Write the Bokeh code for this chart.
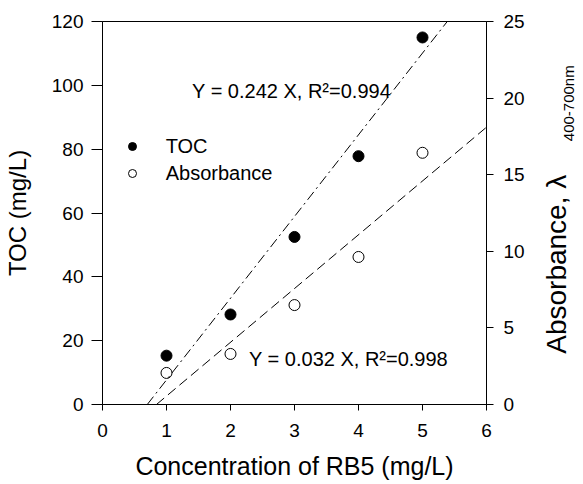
import numpy as np
from bokeh.plotting import figure
from bokeh.models import Range1d, LinearAxis, Label, FixedTicker, Legend, LegendItem
from bokeh.embed import file_html
from bokeh.resources import INLINE

# ---- data ----
conc = [1, 2, 3, 4, 5]
toc = [15.3, 28.2, 52.5, 77.8, 115.0]
absorbance = [2.06, 3.3, 6.49, 9.63, 16.43]
toc_fit_slope, toc_fit_intercept = 25.6, -17.9
abs_fit_slope, abs_fit_intercept = 3.51, -2.96
x_ticks = [0, 1, 2, 3, 4, 5, 6]
toc_ticks = [0, 20, 40, 60, 80, 100, 120]
abs_ticks = [0, 5, 10, 15, 20, 25]
toc_eq = "Y = 0.242 X, R\u00b2=0.994"
abs_eq = "Y = 0.032 X, R\u00b2=0.998"
right_title = "Absorbance, \u03bb"
right_title_sub = "400-700nm"

FONT = "Liberation Sans"

p = figure(width=583, height=484, output_backend="svg", toolbar_location=None,
           x_range=Range1d(0, 6), y_range=Range1d(0, 120),
           min_border_left=102, min_border_right=97, min_border_top=21, min_border_bottom=80)
p.extra_y_ranges = {"abs": Range1d(0, 25)}
p.grid.visible = False
p.outline_line_color = "black"
p.outline_line_width = 1
p.background_fill_color = "white"
p.border_fill_color = "white"

# fit lines
tx0 = -toc_fit_intercept / toc_fit_slope
toc_fx = np.array([tx0, 6.0])
toc_fy = toc_fit_slope * toc_fx + toc_fit_intercept
ax0 = -abs_fit_intercept / abs_fit_slope
abs_fx = np.array([ax0, 6.0])
abs_fy = abs_fit_slope * abs_fx + abs_fit_intercept

p.line(toc_fx, toc_fy, line_color="black", line_width=1, line_dash="10 4 2 4")
p.line(abs_fx, abs_fy, line_color="black", line_width=1, line_dash="10 5", y_range_name="abs")

r_toc = p.scatter(conc, toc, marker="circle", size=11, fill_color="black", line_color="black")
r_abs = p.scatter(conc, absorbance, marker="circle", size=11, fill_color=None, line_color="black",
                  line_width=1, y_range_name="abs")

def style_axis(ax, tick_out, standoff, title_size):
    ax.major_tick_out = tick_out
    ax.major_tick_in = 0
    ax.minor_tick_out = 0
    ax.minor_tick_in = 0
    ax.major_label_standoff = standoff
    ax.major_label_text_font = FONT
    ax.major_label_text_font_size = "19px"
    ax.major_label_text_color = "black"
    ax.axis_line_color = "black"
    ax.major_tick_line_color = "black"
    ax.axis_label_text_font = FONT
    ax.axis_label_text_font_style = "normal"
    ax.axis_label_text_font_size = title_size
    ax.axis_label_text_color = "black"

xa = p.xaxis[0]
xa.ticker = FixedTicker(ticks=x_ticks)
style_axis(xa, 6, 13, "25px")
xa.axis_label = "Concentration of RB5 (mg/L)"
xa.axis_label_standoff = 12

ya = p.yaxis[0]
ya.ticker = FixedTicker(ticks=toc_ticks)
style_axis(ya, 11, 8, "24px")
ya.axis_label = "TOC (mg/L)"
ya.axis_label_standoff = 18

ra = LinearAxis(y_range_name="abs", ticker=FixedTicker(ticks=abs_ticks))
style_axis(ra, 7, 10, "26px")
p.add_layout(ra, "right")

# right axis title: rotated labels placed in the right side panel (not clipped to frame)
p.add_layout(Label(x=7.094, y=15.9, text=right_title, angle=np.pi / 2,
                   text_align="left", text_baseline="alphabetic",
                   text_font=FONT, text_font_size="28px", text_color="black"), "right")
p.add_layout(Label(x=7.28, y=82.5, text=right_title_sub, angle=np.pi / 2,
                   text_align="left", text_baseline="alphabetic",
                   text_font=FONT, text_font_size="15px", text_color="black"), "right")

# equations
p.add_layout(Label(x=1.40, y=98.1, text=toc_eq, text_align="left", text_baseline="alphabetic",
                   text_font=FONT, text_font_size="20px", text_color="black"))
p.add_layout(Label(x=2.29, y=14.3, text=abs_eq, text_align="left", text_baseline="alphabetic",
                   text_font=FONT, text_font_size="20px", text_color="black"))

legend = Legend(items=[LegendItem(label="TOC", renderers=[r_toc]),
                       LegendItem(label="Absorbance", renderers=[r_abs])],
                location=(19.7, 219.3), padding=0, margin=0, spacing=4,
                glyph_width=20, glyph_height=20, label_height=20, label_standoff=24,
                border_line_color=None, background_fill_alpha=0,
                label_text_font=FONT, label_text_font_size="20px", label_text_color="black")
p.add_layout(legend)

open("out.html", "w").write(file_html(p, INLINE))
